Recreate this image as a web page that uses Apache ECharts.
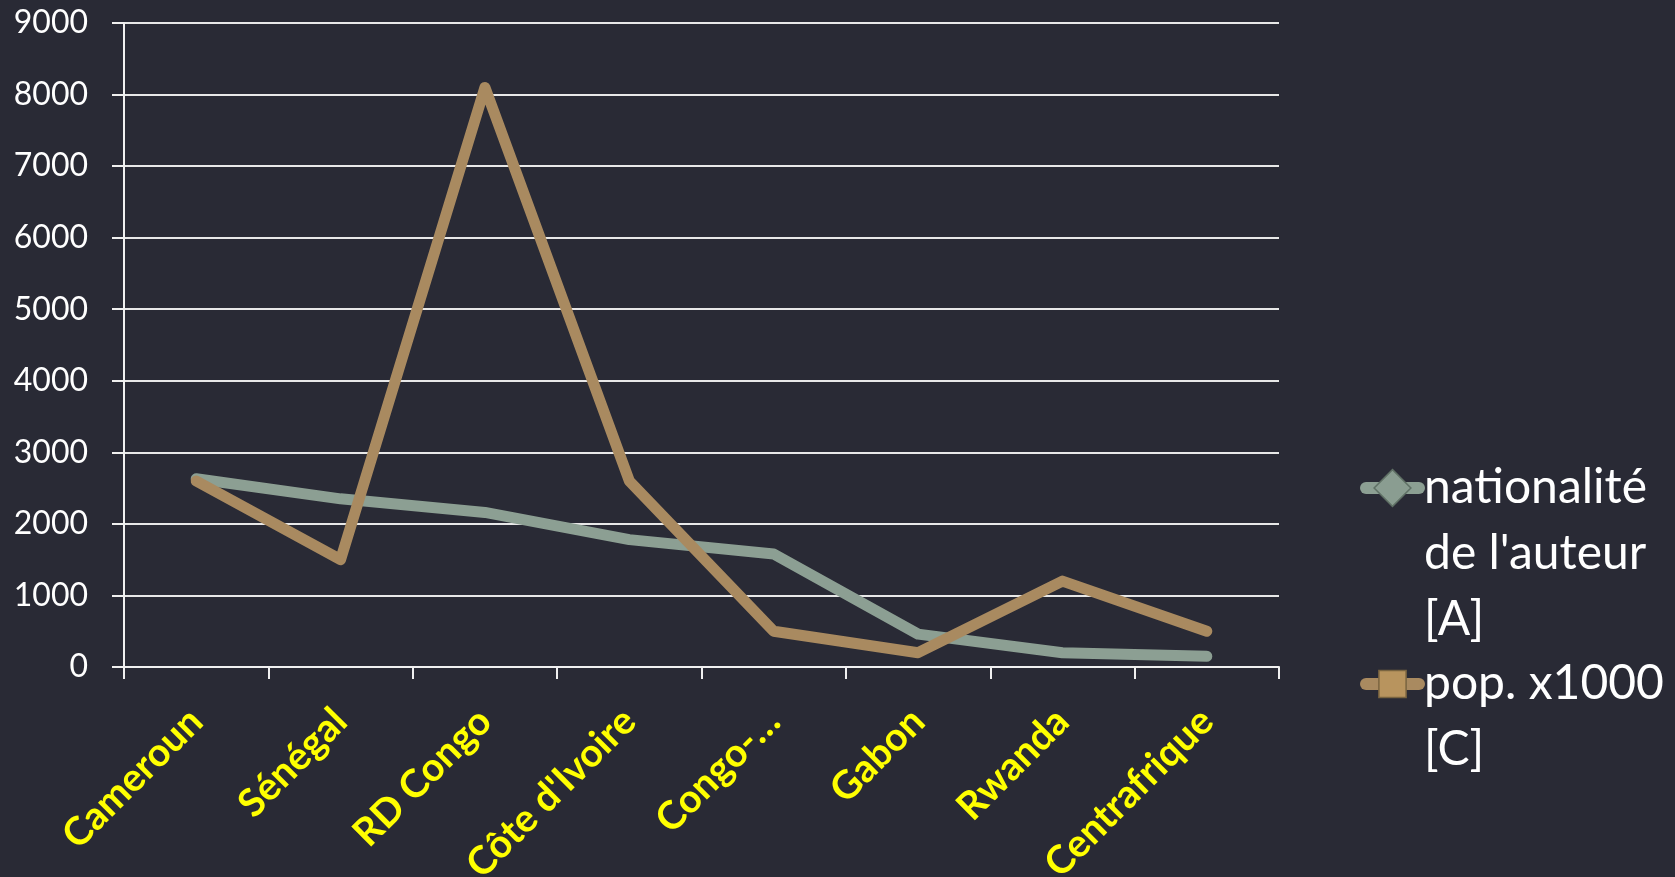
<!DOCTYPE html>
<html><head><meta charset="utf-8">
<script src="https://cdn.jsdelivr.net/npm/echarts@6/dist/echarts.min.js"></script>
<style>html,body{margin:0;padding:0;background:#292a35;}#c{width:1675px;height:877px;}</style>
</head><body><div id="c"></div>
<script>
const categories = ["Cameroun", "Sénégal", "RD Congo", "Côte d'Ivoire", "Congo-…", "Gabon", "Rwanda", "Centrafrique"];
const nationalite = [2630, 2350, 2160, 1780, 1580, 460, 200, 150];
const population = [2600, 1500, 8100, 2600, 500, 200, 1200, 500];
const seriesNames = ["nationalité de l'auteur [A]", "pop. x1000 [C]"];
const legendLabels = ["nationalité\nde l'auteur\n[A]", "pop. x1000\n[C]"];
const yTicks = {min: 0, max: 9000, interval: 1000};

const FONT = 'Lato';
const LH = 66;
const chart = echarts.init(document.getElementById('c'));
function legendFor(i, iconCenterY, itemHeight, border) {
  const lines = legendLabels[i].split('\n');
  const n = lines.length;
  const pad = new Array(n - 1).fill(' ');
  const text = pad.concat(lines).join('\n');
  const blockH = (2 * n - 1) * LH;
  return {
    data: [seriesNames[i]], left: 1360, top: iconCenterY - blockH / 2, orient: 'vertical',
    padding: 0,
    itemWidth: 53, itemHeight: itemHeight, itemGap: 0,
    formatter: () => text,
    lineStyle: {width: 12, cap: 'round'},
    itemStyle: {borderColor: border, borderWidth: 1.5},
    textStyle: {color: '#ffffff', fontFamily: FONT, fontSize: 48, lineHeight: LH}
  };
}
chart.setOption({
  backgroundColor: '#292a35',
  animation: false,
  grid: {left: 124, right: 396, top: 23, bottom: 210, containLabel: false, outerBoundsMode: 'none'},
  legend: [legendFor(0, 488, 46, '#5f7065'), legendFor(1, 684, 34, '#7a6440')],
  xAxis: {
    type: 'category', data: categories, boundaryGap: true,
    axisLine: {lineStyle: {color: '#f0f0f0', width: 2}},
    axisTick: {show: true, length: 12, lineStyle: {color: '#f0f0f0', width: 2}},
    axisLabel: {rotate: 45, color: '#ffff00', fontFamily: FONT, fontWeight: 'bold', fontSize: 39, margin: 48, interval: 0}
  },
  yAxis: {
    type: 'value', min: yTicks.min, max: yTicks.max, interval: yTicks.interval,
    axisLine: {show: true, lineStyle: {color: '#f0f0f0', width: 2}},
    axisTick: {show: true, length: 12, lineStyle: {color: '#f0f0f0', width: 2}},
    splitLine: {lineStyle: {color: '#e8e8e8', width: 2}},
    axisLabel: {color: '#ffffff', fontFamily: FONT, fontSize: 32, margin: 36, formatter: v => String(v)}
  },
  series: [
    {name: seriesNames[0], type: 'line', data: nationalite, symbol: 'diamond', symbolSize: 30, showSymbol: false,
     itemStyle: {color: '#8a9d91'}, lineStyle: {color: '#8c9f93', width: 11, cap: 'round', join: 'round'}},
    {name: seriesNames[1], type: 'line', data: population, symbol: 'rect', symbolSize: 28, showSymbol: false,
     itemStyle: {color: '#b8945e'}, lineStyle: {color: '#a98a60', width: 11, cap: 'round', join: 'round'}}
  ]
});
</script></body></html>
